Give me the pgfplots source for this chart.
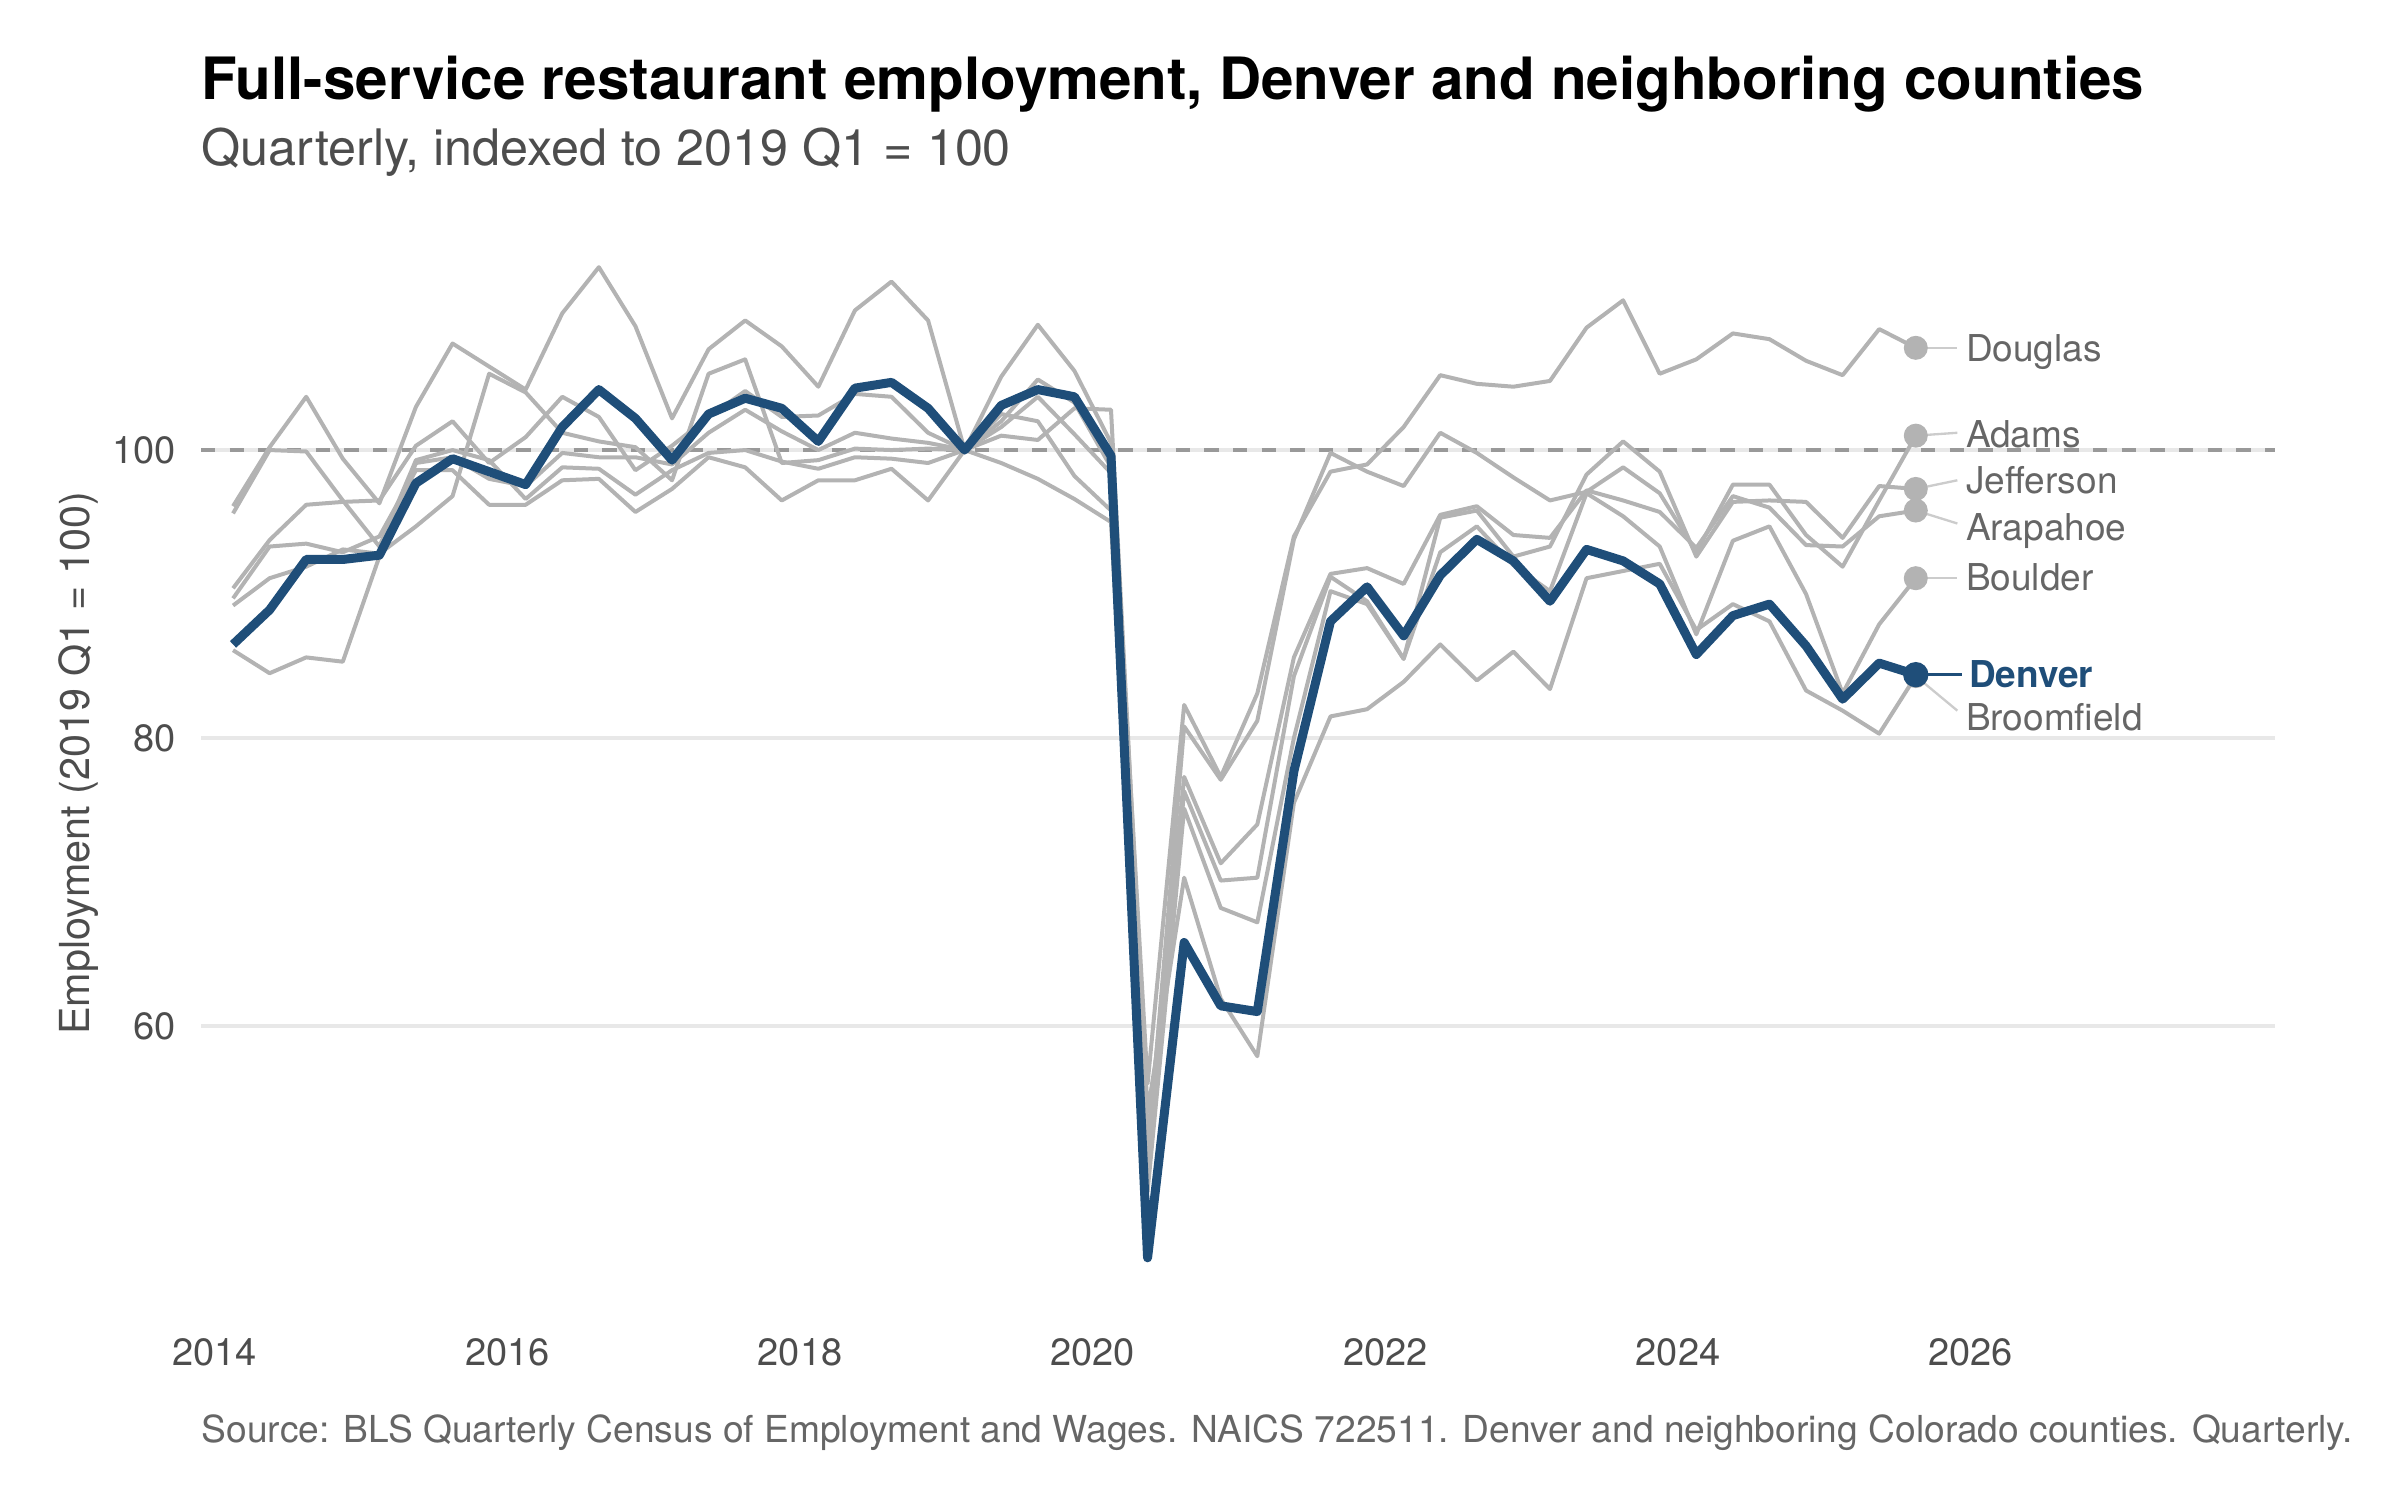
\documentclass[border=0pt]{standalone}
\usepackage{fontspec}
\setmainfont{TeX Gyre Heros}
\usepackage{pgfplots}
\pgfplotsset{compat=1.18}
\usepackage{pgfplotstable}
\definecolor{denv}{RGB}{31,78,121}
\definecolor{lgray}{RGB}{179,179,179}
\definecolor{gridc}{RGB}{232,232,232}
\definecolor{refl}{RGB}{153,153,153}
\definecolor{lab}{RGB}{102,102,102}
\definecolor{subc}{RGB}{77,77,77}
\definecolor{conn}{RGB}{204,204,204}

\pgfplotstableread{
t den dou ada jef ara bou bro
2014.125 86.5 96.1 95.6 90.4 89.2 89.7 86.1
2014.375 88.9 100.2 100.0 93.75 91.1 93.3 84.5
2014.625 92.4 103.7 99.9 96.2 91.9 93.5 85.6
2014.875 92.4 99.4 96.5 96.4 93.1 92.9 85.3
2015.125 92.7 96.3 93.3 96.5 92.8 94.0 92.6
2015.375 97.7 103.0 99.3 100.3 94.7 98.6 99.1
2015.625 99.4 107.4 100.0 102.0 96.8 98.6 99.5
2015.875 98.5 105.8 99.3 99.1 105.3 96.2 98.0
2016.125 97.6 104.2 96.6 100.9 104.0 96.2 97.5
2016.375 101.6 109.5 98.8 103.7 101.2 97.9 99.8
2016.625 104.2 112.7 98.7 102.3 100.6 98.0 99.5
2016.875 102.2 108.6 96.9 98.6 100.2 95.7 99.5
2017.125 99.3 102.2 98.6 100.3 97.9 97.3 99.0
2017.375 102.5 107.0 99.8 102.3 105.3 99.5 101.2
2017.625 103.6 109.0 100.0 104.1 106.3 98.8 102.8
2017.875 102.9 107.2 99.2 102.3 99.1 96.5 101.3
2018.125 100.6 104.4 98.7 102.4 99.3 97.9 100.0
2018.375 104.3 109.7 99.5 103.9 100.1 97.9 101.2
2018.625 104.7 111.7 99.4 103.7 100.0 98.7 100.8
2018.875 102.9 109.0 99.1 101.2 100.1 96.5 100.5
2019.125 100.0 100.0 100.0 100.0 100.0 100.0 100.0
2019.375 103.1 105.1 102.0 101.6 102.5 99.1 101.0
2019.625 104.2 108.7 104.9 103.7 102.0 98.0 100.7
2019.875 103.7 105.5 103.3 101.1 98.2 96.6 102.9
2020.125 99.6 100.5 98.8 98.4 95.8 95.0 102.8
2020.375 43.9 56.0 51.0 50.0 52.0 48.5 54.0
2020.625 65.8 82.3 80.8 76.3 77.3 75.1 70.3
2020.875 61.4 77.3 77.1 70.1 71.3 68.2 61.9
2021.125 61.0 83.1 81.2 70.3 74.0 67.2 57.9
2021.375 77.7 94.0 93.8 84.3 85.6 80.0 75.5
2021.625 88.1 98.5 99.8 91.2 91.4 90.2 81.5
2021.875 90.5 99.0 98.5 89.5 91.8 89.3 82.0
2022.125 87.1 101.6 97.5 85.5 90.7 85.5 83.9
2022.375 91.3 105.2 101.2 95.3 95.5 92.9 86.5
2022.625 93.8 104.6 99.8 95.8 96.1 94.7 84.0
2022.875 92.3 104.4 98.1 92.6 94.1 92.0 86.0
2023.125 89.5 104.8 96.5 93.3 93.9 90.2 83.4
2023.375 93.1 108.5 97.1 98.3 97.2 97.0 91.1
2023.625 92.3 110.4 98.8 100.6 96.5 95.4 91.6
2023.875 90.7 105.3 97.0 98.5 95.7 93.3 92.1
2024.125 85.8 106.3 92.9 92.6 93.2 87.2 87.5
2024.375 88.5 108.1 97.6 96.4 96.8 93.7 89.3
2024.625 89.3 107.7 97.6 96.5 96.0 94.7 88.1
2024.875 86.4 106.2 94.1 96.4 93.4 90.0 83.3
2025.125 82.7 105.2 91.9 93.9 93.3 83.1 81.9
2025.375 85.2 108.4 96.5 97.5 95.4 87.9 80.3
2025.625 84.4 107.1 101.0 97.3 95.8 91.1 84.3
}\data

\begin{document}
\begin{tikzpicture}
\path[use as bounding box] (0,0) rectangle (720pt,450pt);
\begin{axis}[
  at={(60.3pt,57.8pt)}, anchor=south west,
  scale only axis, width=622.2pt, height=326.9pt,
  xmin=2013.906, xmax=2028.08, ymin=40.46, ymax=116.14,
  axis line style={draw=none},
  major tick length=0pt,
  xtick={2014,2016,...,2026},
  ytick={60,80,100},
  ymajorgrids, grid style={color=gridc, line width=1.4pt},
  tick label style={font=\fontsize{11.4}{13}\selectfont, text=subc},
  /pgf/number format/assume math mode=true,
  /pgf/number format/1000 sep={},
  xticklabel style={yshift=-5.7pt},
  yticklabel style={xshift=-4pt},
  clip=false,
]
\addplot[refl, line width=1.0pt, dash pattern=on 4.3pt off 4.3pt] coordinates {(2013.906,100) (2028.08,100)};
\foreach \c in {dou,ada,jef,ara,bou,bro}{
  \addplot[lgray, line width=1.2pt, line join=round, no markers] table[x=t, y=\c] {\data};
}
\addplot[denv, line width=2.7pt, line join=round, no markers] table[x=t, y=den] {\data};
% end dots
\addplot[only marks, mark=*, mark size=3.4pt, lgray, mark options={draw=none, fill=lgray}] coordinates {(2025.625,107.1) (2025.625,101.0) (2025.625,97.3) (2025.625,95.8) (2025.625,91.1) (2025.625,84.3)};
\addplot[only marks, mark=*, mark size=3.6pt, denv, mark options={draw=none, fill=denv}] coordinates {(2025.625,84.4)};
% connectors
\addplot[conn, line width=0.7pt] coordinates {(2025.625,107.1) (2025.909,107.1)};
\addplot[conn, line width=0.7pt] coordinates {(2025.625,101.0) (2025.909,101.2)};
\addplot[conn, line width=0.7pt] coordinates {(2025.625,97.3) (2025.909,97.9)};
\addplot[conn, line width=0.7pt] coordinates {(2025.625,95.8) (2025.909,94.9)};
\addplot[conn, line width=0.7pt] coordinates {(2025.625,91.1) (2025.909,91.1)};
\addplot[conn, line width=0.7pt] coordinates {(2025.625,84.3) (2025.909,81.9)};
\addplot[denv, line width=0.8pt] coordinates {(2025.625,84.4) (2025.94,84.4)};
% labels
\node[anchor=base west, text=lab, font=\fontsize{11.1}{13}\selectfont, inner sep=0pt] at (axis cs:2025.964,106.13) {Douglas};
\node[anchor=base west, text=lab, font=\fontsize{11.1}{13}\selectfont, inner sep=0pt] at (axis cs:2025.964,100.19) {Adams};
\node[anchor=base west, text=lab, font=\fontsize{11.1}{13}\selectfont, inner sep=0pt] at (axis cs:2025.964,96.99) {Jefferson};
\node[anchor=base west, text=lab, font=\fontsize{11.1}{13}\selectfont, inner sep=0pt] at (axis cs:2025.964,93.70) {Arapahoe};
\node[anchor=base west, text=lab, font=\fontsize{11.1}{13}\selectfont, inner sep=0pt] at (axis cs:2025.964,90.23) {Boulder};
\node[anchor=base west, text=denv, font=\bfseries\fontsize{11.1}{13}\selectfont, inner sep=0pt] at (axis cs:2025.985,83.52) {Denver};
\node[anchor=base west, text=lab, font=\fontsize{11.1}{13}\selectfont, inner sep=0pt] at (axis cs:2025.964,80.51) {Broomfield};
\end{axis}
\node[anchor=base west, inner sep=0pt, font=\bfseries\fontsize{17.5}{20}\selectfont] at (60.3pt,420pt) {Full-service restaurant employment, Denver and neighboring counties};
\node[anchor=base west, inner sep=0pt, text=subc, font=\fontsize{15.1}{17}\selectfont] at (60.3pt,400.2pt) {Quarterly, indexed to 2019 Q1 = 100};
\node[anchor=base, rotate=90, inner sep=0pt, text=subc, font=\fontsize{12.4}{14}\selectfont] at (26.7pt,221pt) {Employment (2019 Q1 = 100)};
\node[anchor=base west, inner sep=0pt, text=lab, font=\fontsize{11.15}{13}\selectfont] at (60.3pt,17.2pt) {Source: BLS Quarterly Census of Employment and Wages. NAICS 722511. Denver and neighboring Colorado counties. Quarterly.};
\end{tikzpicture}
\end{document}
